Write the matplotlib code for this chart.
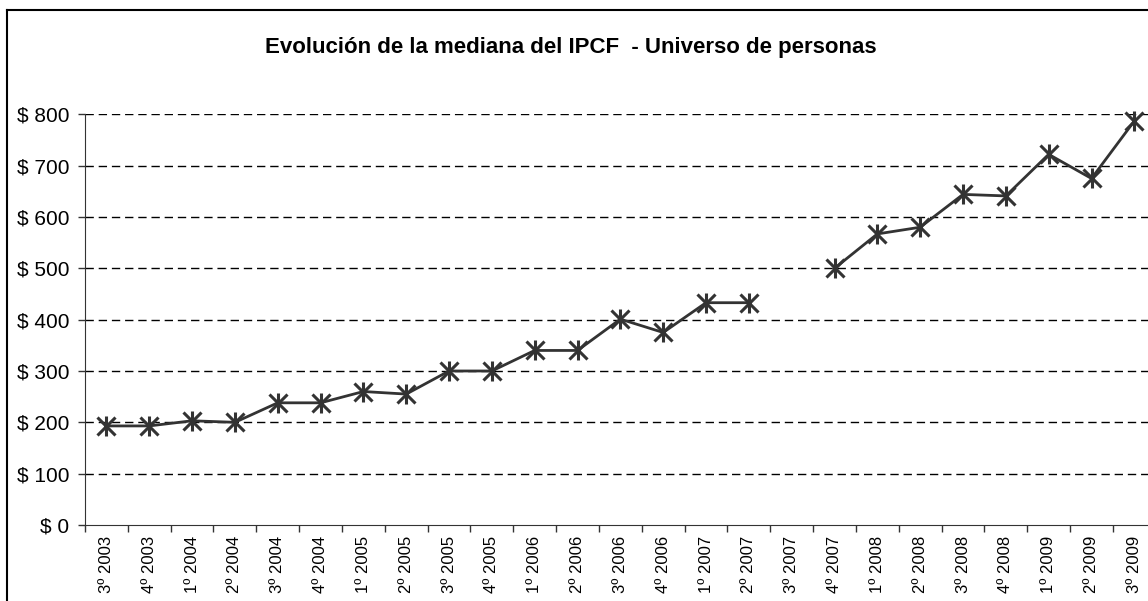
import numpy as np
import matplotlib
matplotlib.use("Agg")
import matplotlib.pyplot as plt
from matplotlib.lines import Line2D

plt.rcParams["font.family"] = ["Liberation Sans", "DejaVu Sans"]

periodos = ["3º 2003", "4º 2003", "1º 2004", "2º 2004", "3º 2004", "4º 2004",
            "1º 2005", "2º 2005", "3º 2005", "4º 2005", "1º 2006", "2º 2006",
            "3º 2006", "4º 2006", "1º 2007", "2º 2007", "3º 2007", "4º 2007",
            "1º 2008", "2º 2008", "3º 2008", "4º 2008", "1º 2009", "2º 2009",
            "3º 2009"]
# 3º 2007 sin dato
mediana_ipcf = [193, 193, 203, 200, 238, 238,
                260, 255, 300, 300, 340, 340,
                401, 375, 433, 433, np.nan, 500,
                567, 580, 644, 641, 722, 675,
                787]
y_ticks = [0, 100, 200, 300, 400, 500, 600, 700, 800]
y_labels = ["$ %d" % v for v in y_ticks]

fig = plt.figure(figsize=(11.48, 6.01), dpi=100)
ax = fig.add_axes([85 / 1148, 1 - 525 / 601, 25 * 42.83 / 1148, (525 - 114.3) / 601])

x = np.arange(len(periodos))
color = "#333333"
ax.plot(x, mediana_ipcf, color=color, lw=2, zorder=3, clip_on=False)
ax.plot(x, mediana_ipcf, ls="none", marker="x", ms=13.5, mew=2.2, color=color, zorder=4, clip_on=False)
ax.plot(x, mediana_ipcf, ls="none", marker="|", ms=14.5, mew=2.2, color=color, zorder=4, clip_on=False)

ax.set_xlim(-0.5, len(periodos) - 0.5)
ax.set_ylim(0, 800)

for v in y_ticks[1:]:
    ax.axhline(v, color="black", lw=1, ls=(0, (6, 3.5)), zorder=1)

ax.set_yticks(y_ticks)
ax.set_yticklabels(y_labels, fontsize=15)
ax.tick_params(axis="y", length=5, width=1, pad=6.5, color="#333333")

ax.set_xticks(x)
ax.set_xticklabels(periodos, rotation=90, fontsize=12)
ax.set_xticks(np.arange(-0.5, len(periodos)), minor=True)
ax.tick_params(axis="x", which="major", length=0, pad=8)
ax.tick_params(axis="x", which="minor", length=5, width=1, color="#333333")

for s in ["top", "right"]:
    ax.spines[s].set_visible(False)
ax.spines["left"].set_color("#333333")
ax.spines["bottom"].set_color("#333333")

fig.text(0.497, 1 - 47 / 601, "Evolución de la mediana del IPCF  - Universo de personas",
         ha="center", va="center", fontsize=16, fontweight="bold")

# marco del gráfico
fig.add_artist(Line2D([7 / 1148, 7 / 1148], [0, 1 - 10 / 601], transform=fig.transFigure, color="black", lw=1.5))
fig.add_artist(Line2D([7 / 1148, 1], [1 - 10 / 601, 1 - 10 / 601], transform=fig.transFigure, color="black", lw=1.5))

fig.savefig("out.png", dpi=100)
